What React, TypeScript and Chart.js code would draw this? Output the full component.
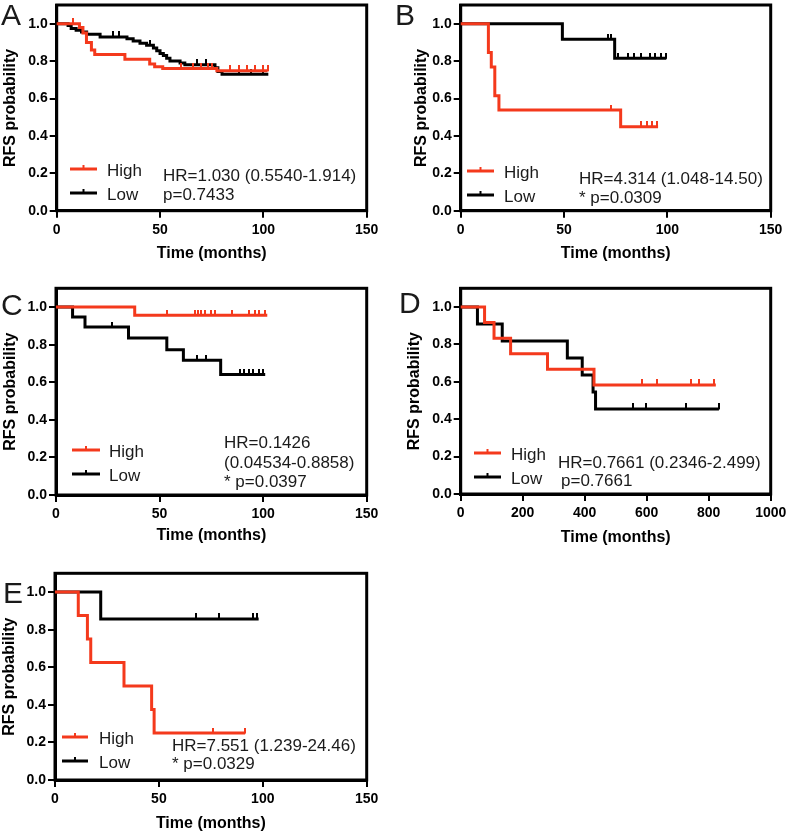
import React, { useEffect, useRef } from 'react';
import { Chart, registerables } from 'chart.js';

Chart.register(...registerables);

const RED = '#F4391C';
const BLACK = '#000000';
const TEXT = '#1a1a1a';
const FONT = '"Liberation Sans", Arial, Helvetica, sans-serif';

const Y_TICKS = [0, 0.2, 0.4, 0.6, 0.8, 1.0];
const X_TICKS_150 = [0, 50, 100, 150];
const X_TICKS_1000 = [0, 200, 400, 600, 800, 1000];
const SERIES_NAMES = ['High', 'Low'];
const X_TITLE = 'Time (months)';
const Y_TITLE = 'RFS probability';

// Panel A
const A_HIGH_T = [0, 11, 12.7, 14.4, 16.8, 18.4, 33, 45, 47.4, 51.3, 77.5, 102];
const A_HIGH_S = [1, 0.98, 0.95, 0.9, 0.86, 0.835, 0.81, 0.785, 0.77, 0.76, 0.748, 0.748];
const A_HIGH_CENSOR = [8, 60, 66, 70, 73, 75, 84, 88, 92, 96, 100, 102];
const A_LOW_T = [0, 5.5, 7, 9.4, 12, 14.5, 21, 34, 37, 40.3, 43.5, 46.8, 48.4, 50, 51.6, 53.2, 54.8, 59.7, 62, 76.6, 78, 80, 102.4];
const A_LOW_S = [1, 0.99, 0.975, 0.965, 0.955, 0.943, 0.929, 0.92, 0.908, 0.895, 0.885, 0.87, 0.855, 0.84, 0.83, 0.815, 0.8, 0.79, 0.78, 0.765, 0.745, 0.73, 0.73];
const A_LOW_CENSOR = [27, 30, 45, 68, 72, 88, 94, 100];
const A_STATS = ['HR=1.030 (0.5540-1.914)', 'p=0.7433'];

// Panel B
const B_HIGH_T = [0, 13.4, 14.8, 16.5, 18.5, 77.4, 95.5];
const B_HIGH_S = [1, 0.846, 0.769, 0.615, 0.538, 0.449, 0.449];
const B_HIGH_CENSOR = [72.6, 87, 90.3, 92.7, 95];
const B_LOW_T = [0, 49.2, 74.5, 99.5];
const B_LOW_S = [1, 0.917, 0.815, 0.815];
const B_LOW_CENSOR = [71.3, 72.9, 76, 81, 84, 87.4, 91.5, 94, 97, 99.5];
const B_STATS = ['HR=4.314 (1.048-14.50)', '* p=0.0309'];

// Panel C
const C_HIGH_T = [0, 38, 102];
const C_HIGH_S = [1, 0.956, 0.956];
const C_HIGH_CENSOR = [53.5, 67, 68.5, 70, 72, 75, 77, 85, 93, 96, 98, 101];
const C_LOW_T = [0, 8, 14, 35, 53.5, 61.5, 79.5, 101];
const C_LOW_S = [1, 0.947, 0.894, 0.835, 0.773, 0.717, 0.641, 0.641];
const C_LOW_CENSOR = [27, 68, 72.5, 89, 91, 93, 95, 98, 100];
const C_STATS = ['HR=0.1426', '(0.04534-0.8858)', '* p=0.0397'];

// Panel D
const D_HIGH_T = [0, 77, 107.5, 161, 280, 430, 823];
const D_HIGH_S = [1, 0.917, 0.833, 0.75, 0.667, 0.583, 0.583];
const D_HIGH_CENSOR = [586, 634, 742, 769, 817];
const D_LOW_T = [0, 54, 134, 344, 392, 427, 435, 833];
const D_LOW_S = [1, 0.909, 0.818, 0.727, 0.636, 0.545, 0.455, 0.455];
const D_LOW_CENSOR = [557, 597, 726, 833];
const D_STATS = ['HR=0.7661 (0.2346-2.499)', 'p=0.7661'];

// Panel E
const E_HIGH_T = [0, 11.2, 15.6, 17.2, 33.2, 46.5, 47.7, 91.5];
const E_HIGH_S = [1, 0.875, 0.75, 0.625, 0.5, 0.375, 0.25, 0.25];
const E_HIGH_CENSOR = [76, 91.5];
const E_LOW_T = [0, 22, 98];
const E_LOW_S = [1, 0.857, 0.857];
const E_LOW_CENSOR = [68, 78.7, 95.5, 97];
const E_STATS = ['HR=7.551 (1.239-24.46)', '* p=0.0329'];

type Series = { t: number[]; s: number[]; c: number[] };
type Panel = {
  letter: string;
  left: number;
  top: number;
  H: number;
  area: { l: number; t: number; r: number; b: number };
  yTitleX: number;
  xTitleY: number;
  xMax: number;
  xTicks: number[];
  high: Series;
  low: Series;
  letterPos: { x: number; y: number };
  legend: { x1: number; x2: number; yHigh: number; yLow: number; textX: number };
  stats: { lines: string[]; x: number[]; y: number[] };
};

const W = 394;

const PANELS: Panel[] = [
  {
    letter: 'A', left: 0, top: 0, H: 270,
    area: { l: 56.7, t: 4, r: 366.7, b: 210.7 },
    yTitleX: 11, xTitleY: 254, xMax: 150, xTicks: X_TICKS_150,
    high: { t: A_HIGH_T, s: A_HIGH_S, c: A_HIGH_CENSOR },
    low: { t: A_LOW_T, s: A_LOW_S, c: A_LOW_CENSOR },
    letterPos: { x: 1, y: 25 },
    legend: { x1: 70, x2: 97, yHigh: 169, yLow: 193, textX: 107 },
    stats: { lines: A_STATS, x: [163, 163], y: [174.5, 193.6] },
  },
  {
    letter: 'B', left: 394, top: 0, H: 270,
    area: { l: 66.7, t: 4, r: 376.7, b: 210.7 },
    yTitleX: 27.5, xTitleY: 254, xMax: 150, xTicks: X_TICKS_150,
    high: { t: B_HIGH_T, s: B_HIGH_S, c: B_HIGH_CENSOR },
    low: { t: B_LOW_T, s: B_LOW_S, c: B_LOW_CENSOR },
    letterPos: { x: 1, y: 25 },
    legend: { x1: 73, x2: 100, yHigh: 171, yLow: 195, textX: 110 },
    stats: { lines: B_STATS, x: [185, 185], y: [178, 197] },
  },
  {
    letter: 'C', left: 0, top: 270, H: 280,
    area: { l: 56, t: 18.3, r: 366.7, b: 225 },
    yTitleX: 11, xTitleY: 266, xMax: 150, xTicks: X_TICKS_150,
    high: { t: C_HIGH_T, s: C_HIGH_S, c: C_HIGH_CENSOR },
    low: { t: C_LOW_T, s: C_LOW_S, c: C_LOW_CENSOR },
    letterPos: { x: 1, y: 45 },
    legend: { x1: 72, x2: 100, yHigh: 180, yLow: 204, textX: 109 },
    stats: { lines: C_STATS, x: [224, 224, 224], y: [172, 192, 211] },
  },
  {
    letter: 'D', left: 394, top: 270, H: 280,
    area: { l: 66.7, t: 18.3, r: 376.7, b: 224 },
    yTitleX: 21, xTitleY: 268, xMax: 1000, xTicks: X_TICKS_1000,
    high: { t: D_HIGH_T, s: D_HIGH_S, c: D_HIGH_CENSOR },
    low: { t: D_LOW_T, s: D_LOW_S, c: D_LOW_CENSOR },
    letterPos: { x: 5, y: 43 },
    legend: { x1: 80, x2: 107, yHigh: 183, yLow: 207, textX: 117 },
    stats: { lines: D_STATS, x: [164, 167], y: [192, 210] },
  },
  {
    letter: 'E', left: 0, top: 550, H: 283,
    area: { l: 55, t: 23.3, r: 366.7, b: 230 },
    yTitleX: 9.6, xTitleY: 274, xMax: 150, xTicks: X_TICKS_150,
    high: { t: E_HIGH_T, s: E_HIGH_S, c: E_HIGH_CENSOR },
    low: { t: E_LOW_T, s: E_LOW_S, c: E_LOW_CENSOR },
    letterPos: { x: 3, y: 53 },
    legend: { x1: 62, x2: 88, yHigh: 187, yLow: 211, textX: 99 },
    stats: { lines: E_STATS, x: [172, 172], y: [195, 213] },
  },
];

function toXY(t: number[], s: number[]) {
  return t.map((x, i) => ({ x, y: s[i] }));
}

function stepAt(t: number[], s: number[], x: number) {
  let v = s[0];
  for (let i = 0; i < t.length; i++) if (t[i] <= x) v = s[i];
  return v;
}

// small upward tick image used as the censor-mark point style
function censorMark(color: string) {
  const c = document.createElement('canvas');
  c.width = 2;
  c.height = 11;
  const g = c.getContext('2d');
  if (g) {
    g.fillStyle = color;
    g.fillRect(0, 0, 2, 6);
  }
  return c;
}

function curveDatasets(series: Series, color: string) {
  return [
    {
      data: toXY(series.t, series.s),
      borderColor: color,
      backgroundColor: color,
      borderWidth: 3,
      stepped: true,
      pointRadius: 0,
      fill: false,
      clip: false as any,
    },
    {
      data: series.c.map((x) => ({ x, y: stepAt(series.t, series.s, x) })),
      showLine: false,
      borderColor: color,
      backgroundColor: color,
      pointBorderColor: color,
      pointStyle: censorMark(color) as any,
      pointRadius: 3,
      clip: false as any,
    },
  ];
}

function KMPanel({ p }: { p: Panel }) {
  const ref = useRef<HTMLCanvasElement>(null);
  useEffect(() => {
    if (!ref.current) return;
    const a = p.area;
    const tickFont = { family: FONT, size: 14, weight: 'bold' as const };
    const titleFont = { family: FONT, size: 16, weight: 'bold' as const };

    const annot = {
      id: 'kmAnnot',
      beforeDatasetsDraw(chart: any) {
        const { ctx, chartArea: ca } = chart;
        ctx.save();
        ctx.strokeStyle = '#000';
        ctx.lineWidth = 3;
        ctx.strokeRect(ca.left, ca.top, ca.right - ca.left, ca.bottom - ca.top);
        ctx.restore();
      },
      afterDraw(chart: any) {
        const { ctx } = chart;
        ctx.save();
        ctx.fillStyle = TEXT;
        ctx.font = `30px ${FONT}`;
        ctx.textAlign = 'left';
        ctx.textBaseline = 'alphabetic';
        ctx.fillText(p.letter, p.letterPos.x, p.letterPos.y);
        const lg = p.legend;
        const rows: [string, string, number][] = [
          [SERIES_NAMES[0], RED, lg.yHigh],
          [SERIES_NAMES[1], BLACK, lg.yLow],
        ];
        for (const [name, color, y] of rows) {
          ctx.strokeStyle = color;
          ctx.lineWidth = 3;
          ctx.beginPath();
          ctx.moveTo(lg.x1, y);
          ctx.lineTo(lg.x2, y);
          ctx.stroke();
          ctx.lineWidth = 2;
          ctx.beginPath();
          const mx = (lg.x1 + lg.x2) / 2;
          ctx.moveTo(mx, y - 4);
          ctx.lineTo(mx, y);
          ctx.stroke();
          ctx.fillStyle = TEXT;
          ctx.font = `17px ${FONT}`;
          ctx.fillText(name, lg.textX, y + 6.5);
        }
        ctx.font = `17px ${FONT}`;
        ctx.fillStyle = TEXT;
        p.stats.lines.forEach((line, i) => {
          ctx.fillText(line, p.stats.x[i], p.stats.y[i] + 6);
        });
        ctx.restore();
      },
    };

    const chart = new Chart(ref.current, {
      type: 'line',
      data: {
        datasets: [...curveDatasets(p.high, RED), ...curveDatasets(p.low, BLACK)] as any,
      },
      options: {
        animation: false,
        responsive: false,
        maintainAspectRatio: false,
        layout: { padding: { left: 0, top: a.t, right: W - a.r, bottom: 0 } },
        plugins: { legend: { display: false }, tooltip: { enabled: false } },
        events: [],
        scales: {
          x: {
            type: 'linear',
            min: 0,
            max: p.xMax,
            afterBuildTicks: (s: any) => {
              s.ticks = p.xTicks.map((v) => ({ value: v }));
            },
            afterFit: (s: any) => {
              s.height = p.H - a.b;
              s.paddingLeft = 0;
              s.paddingRight = 0;
            },
            ticks: {
              autoSkip: false,
              maxRotation: 0,
              minRotation: 0,
              color: '#000',
              font: tickFont,
              padding: 4,
              callback: (v: any) => String(v),
            },
            grid: {
              display: true,
              drawOnChartArea: false,
              drawTicks: true,
              tickLength: 7,
              lineWidth: 2,
              color: '#000',
            },
            border: { display: true, width: 3, color: '#000' },
            title: {
              display: true,
              text: X_TITLE,
              color: '#000',
              font: titleFont,
              padding: { top: 0, bottom: Math.max(0, p.H - 9.6 - p.xTitleY) },
            },
          },
          y: {
            type: 'linear',
            min: 0,
            max: 1.1,
            afterBuildTicks: (s: any) => {
              s.ticks = Y_TICKS.map((v) => ({ value: v }));
            },
            afterFit: (s: any) => {
              s.width = a.l;
              s.paddingTop = 0;
              s.paddingBottom = 0;
            },
            ticks: {
              color: '#000',
              font: tickFont,
              padding: 2,
              callback: (v: any) => Number(v).toFixed(1),
            },
            grid: {
              display: true,
              drawOnChartArea: false,
              drawTicks: true,
              tickLength: 7,
              lineWidth: 2,
              color: '#000',
            },
            border: { display: true, width: 3, color: '#000' },
            title: {
              display: true,
              text: Y_TITLE,
              color: '#000',
              font: titleFont,
              padding: { top: Math.max(0, p.yTitleX - 9.6), bottom: 0 },
            },
          },
        },
      } as any,
      plugins: [annot],
    });
    return () => chart.destroy();
  }, [p]);

  return (
    <div style={{ position: 'absolute', left: p.left, top: p.top, width: W, height: p.H }}>
      <canvas ref={ref} width={W} height={p.H} style={{ display: 'block', width: W, height: p.H }} />
    </div>
  );
}

export default function App() {
  useEffect(() => {
    document.body.style.margin = '0';
    document.body.style.background = '#fff';
  }, []);
  return (
    <div style={{ position: 'relative', width: 788, height: 833, background: '#fff', overflow: 'hidden' }}>
      {PANELS.map((p) => (
        <KMPanel key={p.letter} p={p} />
      ))}
    </div>
  );
}
